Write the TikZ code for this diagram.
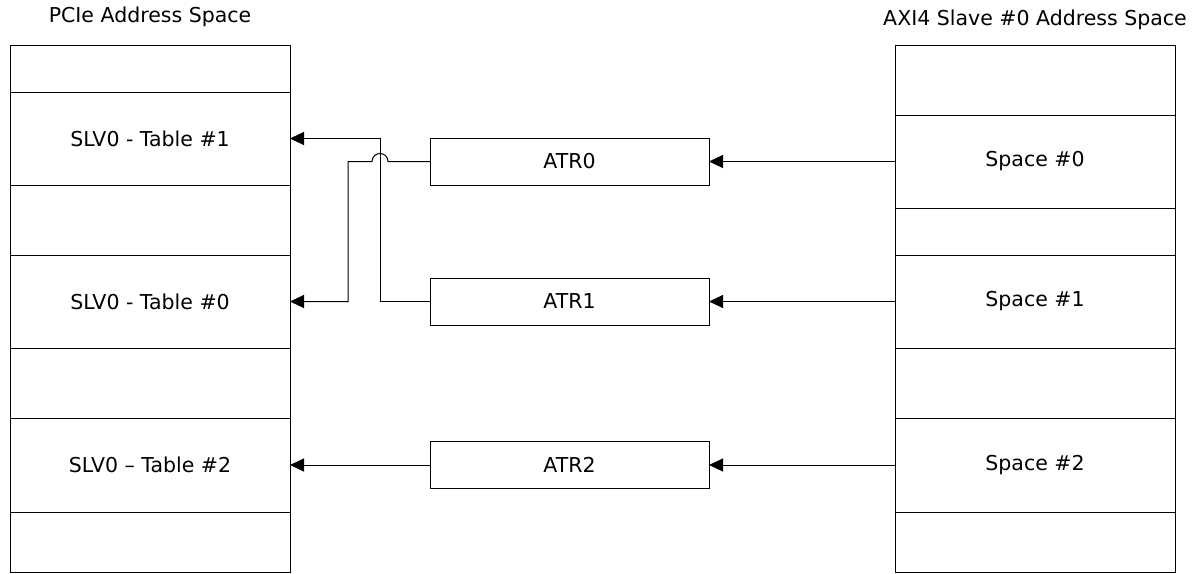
\documentclass[tikz,border=0pt]{standalone}
\usepackage{fontspec}
\setmainfont{DejaVu Sans}
\usetikzlibrary{arrows.meta}

\tikzset{
  cell/.style={rectangle, draw=black, line width=1pt, inner sep=0pt, outer sep=0pt, minimum width=280pt, font=\fontsize{20.5}{24}\selectfont},
  atrbox/.style={rectangle, draw=black, line width=1pt, inner sep=0pt, outer sep=0pt, minimum width=279pt, minimum height=47pt, font=\fontsize{20.5}{24}\selectfont},
  conn/.style={line width=1pt, color=black, -{Triangle[length=14pt, width=13pt]}},
  title/.style={inner sep=0pt, font=\fontsize{20.5}{24}\selectfont}
}

\begin{document}
\begin{tikzpicture}
\useasboundingbox (0pt, 0pt) rectangle (1201pt, -573pt);
% titles
\node (pcietitle) [title] at (150.0pt, -17.0pt) {PCIe Address Space};
\node (axititle) [title] at (1035.0pt, -20.0pt) {AXI4 Slave \#0 Address Space};
% PCIe address space
\node (pcie1) [cell, minimum height=47pt] at (150.0pt, -68.5pt) {};
\node (slv0tab1) [cell, minimum height=93pt] at (150.0pt, -138.5pt) {SLV0 - Table \#1};
\node (pcie3) [cell, minimum height=70pt] at (150.0pt, -220.0pt) {};
\node (slv0tab0) [cell, minimum height=93pt] at (150.0pt, -301.5pt) {SLV0 - Table \#0};
\node (pcie5) [cell, minimum height=70pt] at (150.0pt, -383.0pt) {};
\node (slv0tab2) [cell, minimum height=94pt] at (150.0pt, -465.0pt) {SLV0 – Table \#2};
\node (pcie7) [cell, minimum height=60pt] at (150.0pt, -542.0pt) {};
% AXI4 slave address space
\node (axi1) [cell, minimum height=70pt] at (1035.0pt, -80.0pt) {};
\node (space0) [cell, minimum height=93pt] at (1035.0pt, -161.5pt) {Space \#0};
\node (axi3) [cell, minimum height=47pt] at (1035.0pt, -231.5pt) {};
\node (space1) [cell, minimum height=93pt] at (1035.0pt, -301.5pt) {Space \#1};
\node (axi5) [cell, minimum height=70pt] at (1035.0pt, -383.0pt) {};
\node (space2) [cell, minimum height=94pt] at (1035.0pt, -465.0pt) {Space \#2};
\node (axi7) [cell, minimum height=60pt] at (1035.0pt, -542.0pt) {};
% translation
\node (atr0) [atrbox] at (569.5pt, -161.5pt) {ATR0};
\node (atr1) [atrbox] at (569.5pt, -301.5pt) {ATR1};
\node (atr2) [atrbox] at (569.5pt, -465.0pt) {ATR2};
% connectors
\draw [conn] (space0) to (atr0);
\draw [conn] (space1) to (atr1);
\draw [conn] (space2) to (atr2);
\draw [conn] (atr1.west) -- ++(-50pt, 0pt) |- (slv0tab1.east);
\draw [conn] (atr0.west) -- ++(-42pt, 0pt) arc[start angle=0, end angle=180, radius=8pt] -- ++(-24pt, 0pt) |- (slv0tab0.east);
\draw [conn] (atr2) to (slv0tab2);
\end{tikzpicture}
\end{document}
